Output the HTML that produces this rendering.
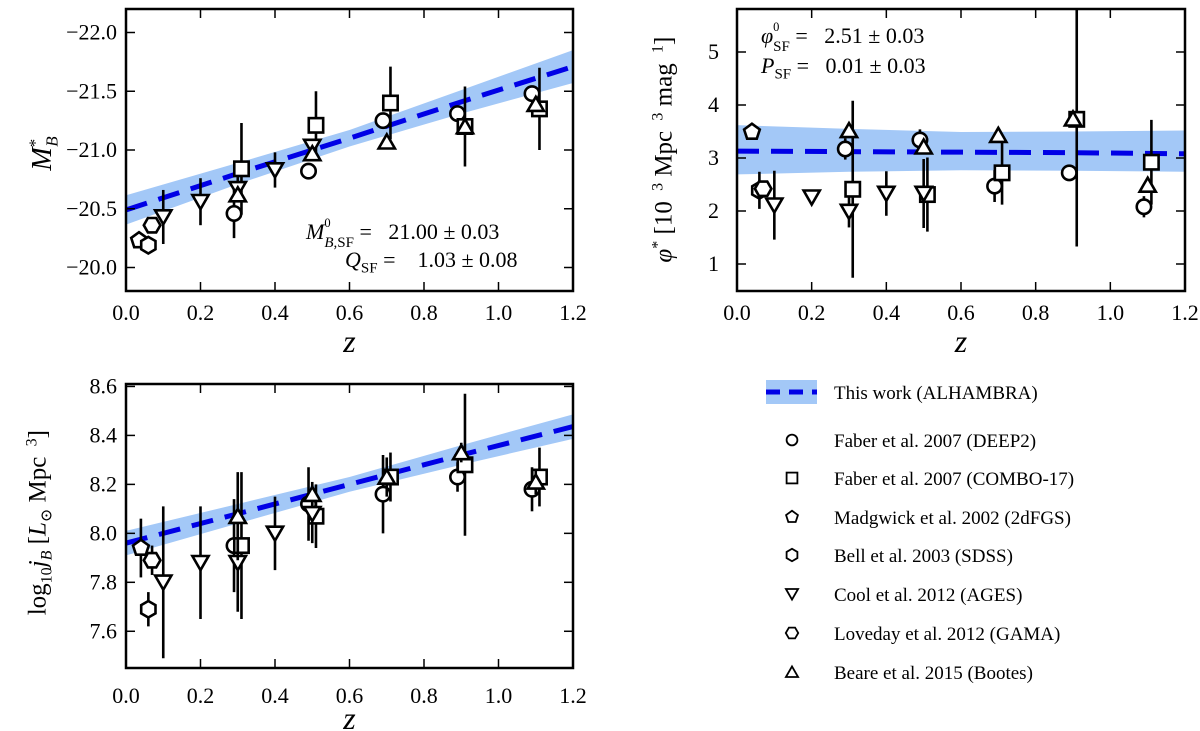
<!DOCTYPE html>
<html><head><meta charset="utf-8"><style>
body{margin:0;background:#fff;}
svg{display:block;font-family:"Liberation Serif","DejaVu Serif",serif;}
</style></head><body>
<svg id="fig" width="1200" height="731" viewBox="0 0 1200 731"></svg>
<script>
// ---------- DATA ----------
const surveys = ["deep2","combo17","twodf","sdss","ages","gama","bootes"];
const shapes = {deep2:"circle",combo17:"square",twodf:"pentagon",sdss:"hexv",ages:"tridown",gama:"hexh",bootes:"triup"};
const legendLabels = ["Faber et al. 2007 (DEEP2)","Faber et al. 2007 (COMBO-17)","Madgwick et al. 2002 (2dFGS)","Bell et al. 2003 (SDSS)","Cool et al. 2012 (AGES)","Loveday et al. 2012 (GAMA)","Beare et al. 2015 (Bootes)"];

// Panel 1: M*_B
const m_deep2_z=[0.29,0.49,0.69,0.89,1.09], m_deep2_v=[-20.46,-20.82,-21.25,-21.31,-21.48], m_deep2_e=[0.21,0.05,0.06,0.03,0.04];
const m_combo_z=[0.31,0.51,0.71,0.91,1.11], m_combo_v=[-20.84,-21.21,-21.40,-21.20,-21.35], m_combo_e=[0.39,0.29,0.31,0.34,0.35];
const m_2df_z=[0.035], m_2df_v=[-20.23], m_2df_e=[0.03];
const m_sdss_z=[0.06], m_sdss_v=[-20.19], m_sdss_e=[0.03];
const m_ages_z=[0.1,0.2,0.3,0.4,0.5], m_ages_v=[-20.43,-20.56,-20.67,-20.83,-21.03], m_ages_e=[0.23,0.2,0.1,0.15,0.06];
const m_gama_z=[0.07], m_gama_v=[-20.36], m_gama_e=[0.05];
const m_boot_z=[0.3,0.5,0.7,0.91,1.1], m_boot_v=[-20.62,-20.97,-21.07,-21.20,-21.39], m_boot_e=[0.05,0.05,0.05,0.05,0.05];
const m_fit_z=[0,0.3,0.6,0.9,1.2], m_fit_v=[-20.49,-20.80,-21.10,-21.41,-21.71], m_band_e=[0.125,0.09,0.07,0.1,0.14];

// Panel 2: phi*
const p_deep2_z=[0.29,0.49,0.69,0.89,1.09], p_deep2_v=[3.17,3.34,2.47,2.72,2.08], p_deep2_e=[0.2,0.2,0.3,0.0,0.2];
const p_combo_z=[0.31,0.51,0.71,0.91,1.11], p_combo_v=[2.41,2.31,2.72,3.73,2.92], p_combo_e=[1.67,0.7,0.6,2.4,0.8];
const p_2df_z=[0.04], p_2df_v=[3.49], p_2df_e=[0.05];
const p_sdss_z=[0.06], p_sdss_v=[2.39], p_sdss_e=[0.35];
const p_ages_z=[0.1,0.2,0.3,0.4,0.5], p_ages_v=[2.11,2.26,1.99,2.33,2.33], p_ages_e=[0.65,0.12,0.3,0.42,0.65];
const p_gama_z=[0.07], p_gama_v=[2.42], p_gama_e=[0.1];
const p_boot_z=[0.3,0.5,0.7,0.9,1.1], p_boot_v=[3.52,3.21,3.43,3.74,2.49], p_boot_e=[0.1,0.1,0.1,0.1,0.1];
const p_fit_z=[0,0.3,0.6,0.9,1.2], p_fit_v=[3.13,3.12,3.11,3.10,3.08], p_band_lo=[2.69,2.74,2.77,2.76,2.74], p_band_hi=[3.62,3.55,3.49,3.50,3.52];

// Panel 3: log10 j_B
const j_deep2_z=[0.29,0.49,0.69,0.89,1.09], j_deep2_v=[7.95,8.12,8.16,8.23,8.18], j_deep2_e=[0.19,0.15,0.16,0.06,0.09];
const j_combo_z=[0.31,0.51,0.71,0.91,1.11], j_combo_v=[7.95,8.07,8.23,8.28,8.23], j_combo_e=[0.3,0.13,0.1,0.29,0.12];
const j_2df_z=[0.04], j_2df_v=[7.94], j_2df_e=[0.12];
const j_sdss_z=[0.06], j_sdss_v=[7.69], j_sdss_e=[0.07];
const j_ages_z=[0.1,0.2,0.3,0.4,0.5], j_ages_v=[7.80,7.88,7.88,8.0,8.08], j_ages_e=[0.31,0.23,0.2,0.15,0.12];
const j_gama_z=[0.07], j_gama_v=[7.89], j_gama_e=[0.06];
const j_boot_z=[0.3,0.5,0.7,0.9,1.1], j_boot_v=[8.07,8.16,8.23,8.33,8.21], j_boot_e=[0.18,0.05,0.08,0.04,0.05];
const j_fit_z=[0,0.3,0.6,0.9,1.2], j_fit_v=[7.96,8.08,8.20,8.32,8.436], j_band_e=[0.05,0.04,0.03,0.04,0.05];

const xTicks=[0,0.2,0.4,0.6,0.8,1.0,1.2];
const xTickLabels=["0.0","0.2","0.4","0.6","0.8","1.0","1.2"];
const mTicks=[-22,-21.5,-21,-20.5,-20], mTickLabels=["\u221222.0","\u221221.5","\u221221.0","\u221220.5","\u221220.0"];
const pTicks=[1,2,3,4,5], pTickLabels=["1","2","3","4","5"];
const jTicks=[7.6,7.8,8.0,8.2,8.4,8.6], jTickLabels=["7.6","7.8","8.0","8.2","8.4","8.6"];

// ---------- DRAW ----------
const NS="http://www.w3.org/2000/svg";
const svg=document.getElementById("fig");
function mk(tag,attrs,parent){const e=document.createElementNS(NS,tag);for(const k in attrs)e.setAttribute(k,attrs[k]);(parent||svg).appendChild(e);return e;}

function panel(name,x0,x1,y0,y1,vmin,vmax,invert){
  const g=mk("g",{});
  
  
  const sx=z=>x0+(z-0)/(1.2-0)*(x1-x0);
  const sy=invert? v=>y0+(v-vmin)/(vmax-vmin)*(y1-y0) : v=>y1-(v-vmin)/(vmax-vmin)*(y1-y0);
  return {g,sx,sy,x0,x1,y0,y1};
}
function drawMarker(g,shape,cx,cy){
  const st={fill:"#fff",stroke:"#000","stroke-width":2.6};
  let e;const r=7.2;
  if(shape==="circle") e=mk("circle",Object.assign({cx,cy,r},st),g);
  else if(shape==="square") e=mk("rect",Object.assign({x:cx-r,y:cy-r,width:2*r,height:2*r},st),g);
  else {
    let pts=[],n,off,rr=r*1.15;
    if(shape==="pentagon"){n=5;off=-90;}
    else if(shape==="hexv"){n=6;off=-90;}
    else if(shape==="hexh"){n=6;off=0;}
    else if(shape==="triup"){n=3;off=-90;rr=r*1.3;}
    else {n=3;off=90;rr=r*1.3;}
    for(let i=0;i<n;i++){const a=(off+360*i/n)*Math.PI/180;pts.push((cx+rr*Math.cos(a)).toFixed(1)+","+(cy+rr*Math.sin(a)+(shape==="triup"?2:shape==="tridown"?-2:0)).toFixed(1));}
    e=mk("polygon",Object.assign({points:pts.join(" ")},st),g);
  }
  return e;
}
function series(P,shape,zs,vs,es,name){
  const g=mk("g",{},P.g);
  
  
  for(let i=0;i<zs.length;i++){
    const x=P.sx(zs[i]);
    if(es[i]>0){
      const l=mk("line",{x1:x,x2:x,y1:P.sy(vs[i]-es[i]),y2:P.sy(vs[i]+es[i]),stroke:"#000","stroke-width":2.6},g);
      
      
    }
  }
  for(let i=0;i<zs.length;i++){
    const m=drawMarker(g,shape,P.sx(zs[i]),P.sy(vs[i]));
    
    
  }
}
function band(P,zs,lo,hi,name){
  let d="M"+zs.map((z,i)=>P.sx(z)+","+P.sy(hi[i])).join(" L");
  d+=" L"+zs.slice().reverse().map((z,k)=>{const i=zs.length-1-k;return P.sx(z)+","+P.sy(lo[i]);}).join(" L")+" Z";
  const p=mk("path",{d,fill:"#a3c8f7",stroke:"none"},P.g);
  
  
}
function fitline(P,zs,vs,name){
  const p=mk("polyline",{points:zs.map((z,i)=>P.sx(z)+","+P.sy(vs[i])).join(" "),fill:"none",stroke:"#0000e6","stroke-width":5,"stroke-dasharray":"22,12"},P.g);
  
  
}
function axes(P,yt,ytl,ylabX,ylabAnchor,xlabY,zY){
  for(let i=0;i<xTicks.length;i++){
    const x=P.sx(xTicks[i]);
    mk("line",{x1:x,x2:x,y1:P.y1,y2:P.y1-9,stroke:"#000","stroke-width":1.5},P.g);
    mk("line",{x1:x,x2:x,y1:P.y0,y2:P.y0+9,stroke:"#000","stroke-width":1.5},P.g);
    const t=mk("text",{x:x,y:xlabY,"font-size":22,"text-anchor":"middle"},P.g);t.textContent=xTickLabels[i];
    
    
  }
  for(let i=0;i<yt.length;i++){
    const y=P.sy(yt[i]);
    mk("line",{x1:P.x0,x2:P.x0+9,y1:y,y2:y,stroke:"#000","stroke-width":1.5},P.g);
    mk("line",{x1:P.x1,x2:P.x1-9,y1:y,y2:y,stroke:"#000","stroke-width":1.5},P.g);
    const t=mk("text",{x:ylabX,y:y+7,"font-size":22,"text-anchor":ylabAnchor},P.g);t.textContent=ytl[i];
    
    
  }
  const fr=mk("rect",{x:P.x0,y:P.y0,width:P.x1-P.x0,height:P.y1-P.y0,fill:"none",stroke:"#000","stroke-width":2.5},P.g);
  
  
  const z=mk("text",{x:(P.x0+P.x1)/2,y:zY,"font-size":32,"font-style":"italic","text-anchor":"middle"},P.g);z.textContent="z";
  
  
}
function clipRect(P,id){
  const cp=mk("clipPath",{id},svg);mk("rect",{x:P.x0,y:P.y0,width:P.x1-P.x0,height:P.y1-P.y0},cp);
  const g=mk("g",{"clip-path":"url(#"+id+")"},P.g);return g;
}
function drawAll(P,prefix,d){
  const inner=clipRect(P,prefix+"clip");const saved=P.g;P.g=inner;
  if(d.bandLo) band(P,d.fitZ,d.bandLo,d.bandHi,'fit-band');
  fitline(P,d.fitZ,d.fitV,'fit-line');
  series(P,"circle",d.s[0][0],d.s[0][1],d.s[0][2],'deep2-series');
  series(P,"square",d.s[1][0],d.s[1][1],d.s[1][2],'combo17-series');
  series(P,"pentagon",d.s[2][0],d.s[2][1],d.s[2][2],'2dfgs-series');
  series(P,"hexv",d.s[3][0],d.s[3][1],d.s[3][2],'sdss-series');
  series(P,"tridown",d.s[4][0],d.s[4][1],d.s[4][2],'ages-series');
  series(P,"hexh",d.s[5][0],d.s[5][1],d.s[5][2],'gama-series');
  series(P,"triup",d.s[6][0],d.s[6][1],d.s[6][2],'bootes-series');
  P.g=saved;
}

// Panel 1
const P1=panel("panel-magnitude",126,573,9,291,-22.2,-19.8,true);
drawAll(P1,"p1",{fitZ:m_fit_z,fitV:m_fit_v,bandLo:m_fit_v.map((v,i)=>v-m_band_e[i]),bandHi:m_fit_v.map((v,i)=>v+m_band_e[i]),
 s:[[m_deep2_z,m_deep2_v,m_deep2_e],[m_combo_z,m_combo_v,m_combo_e],[m_2df_z,m_2df_v,m_2df_e],[m_sdss_z,m_sdss_v,m_sdss_e],[m_ages_z,m_ages_v,m_ages_e],[m_gama_z,m_gama_v,m_gama_e],[m_boot_z,m_boot_v,m_boot_e]]});
axes(P1,mTicks,mTickLabels,117,"end",320,352);

// Panel 2
const P2=panel("panel-phi",737,1185,9,291,1-(291-264)/53,1+(264-9)/53,false);
drawAll(P2,"p2",{fitZ:p_fit_z,fitV:p_fit_v,bandLo:p_band_lo,bandHi:p_band_hi,
 s:[[p_deep2_z,p_deep2_v,p_deep2_e],[p_combo_z,p_combo_v,p_combo_e],[p_2df_z,p_2df_v,p_2df_e],[p_sdss_z,p_sdss_v,p_sdss_e],[p_ages_z,p_ages_v,p_ages_e],[p_gama_z,p_gama_v,p_gama_e],[p_boot_z,p_boot_v,p_boot_e]]});
axes(P2,pTicks,pTickLabels,719,"end",320,352);

// Panel 3
const P3=panel("panel-luminosity-density",126,573,384,668,7.45,8.61,false);
drawAll(P3,"p3",{fitZ:j_fit_z,fitV:j_fit_v,bandLo:j_fit_v.map((v,i)=>v-j_band_e[i]),bandHi:j_fit_v.map((v,i)=>v+j_band_e[i]),
 s:[[j_deep2_z,j_deep2_v,j_deep2_e],[j_combo_z,j_combo_v,j_combo_e],[j_2df_z,j_2df_v,j_2df_e],[j_sdss_z,j_sdss_v,j_sdss_e],[j_ages_z,j_ages_v,j_ages_e],[j_gama_z,j_gama_v,j_gama_e],[j_boot_z,j_boot_v,j_boot_e]]});
axes(P3,jTicks,jTickLabels,117,"end",703,729);

// Legend
const lg=mk("g",{});


mk("rect",{x:766,y:380,width:51,height:24,fill:"#a3c8f7"},lg);
mk("line",{x1:766,x2:817,y1:392,y2:392,stroke:"#0000e6","stroke-width":5,"stroke-dasharray":"14,9"},lg);
const t0=mk("text",{x:834,y:399,"font-size":19},lg);t0.textContent="This work (ALHAMBRA)";


const legY=[440,478,517,555,594,633,672];
for(let i=0;i<7;i++){
  const gg=mk("g",{},lg);
  
  
  const s=shapes[surveys[i]];
  const m=drawMarker(gg,s,792,legY[i]);m.setAttribute("transform","translate(792,"+legY[i]+") scale(0.75) translate(-792,"+(-legY[i])+")");m.setAttribute("stroke-width",2.4);
  const t=mk("text",{x:834,y:legY[i]+7,"font-size":19},gg);t.textContent=legendLabels[i];
}
</script>
<div style="position:absolute;left:0;top:0;width:1200px;height:731px;pointer-events:none;font-family:'Liberation Serif','DejaVu Serif',serif;color:#000;">
  <div style="position:absolute;left:14px;top:135px;font-size:28px;transform:rotate(-90deg);transform-origin:center;width:60px;text-align:center;"><i>M</i><sup style="font-size:17px">*</sup><sub style="font-size:17px;margin-left:-8px"><i>B</i></sub></div>
  <div style="position:absolute;left:524px;top:135px;width:280px;font-size:25px;transform:rotate(-90deg);transform-origin:center;text-align:center;white-space:nowrap;"><i>φ</i><sup style="font-size:16px">*</sup> [10 <sup style="font-size:16px">&nbsp;3</sup> Mpc <sup style="font-size:16px">&nbsp;3</sup> mag <sup style="font-size:16px">&nbsp;1</sup>]</div>
  <div style="position:absolute;left:-115px;top:506px;width:310px;font-size:25px;transform:rotate(-90deg);transform-origin:center;text-align:center;white-space:nowrap;">log<sub style="font-size:16px">10</sub><i>j</i><sub style="font-size:16px"><i>B</i></sub> [<i>L</i><sub style="font-size:16px">⊙</sub> Mpc <sup style="font-size:16px">&nbsp;3</sup>]</div>
  <div style="position:absolute;left:306px;top:218px;font-size:22px;white-space:nowrap;"><i>M</i><span style="display:inline-block;vertical-align:middle;line-height:0.9;font-size:15px;"><sup>0</sup><br><i>B</i>,SF</span> = &nbsp;&nbsp;21.00 ± 0.03</div>
  <div style="position:absolute;left:345px;top:247px;font-size:22px;white-space:nowrap;"><i>Q</i><sub style="font-size:15px">SF</sub> = &nbsp;&nbsp;&nbsp;1.03 ± 0.08</div>
  <div style="position:absolute;left:761px;top:22px;font-size:22px;white-space:nowrap;"><i>φ</i><span style="display:inline-block;vertical-align:middle;line-height:0.9;font-size:15px;"><sup>0</sup><br>SF</span> = &nbsp;&nbsp;2.51 ± 0.03</div>
  <div style="position:absolute;left:761px;top:53px;font-size:22px;white-space:nowrap;"><i>P</i><sub style="font-size:15px">SF</sub> = &nbsp;&nbsp;0.01 ± 0.03</div>
</div>
</body></html>
